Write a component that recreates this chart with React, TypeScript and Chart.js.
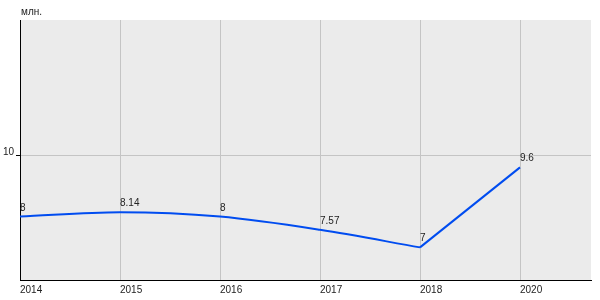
import React, { useEffect, useRef } from "react";
import { Chart, registerables } from "chart.js";

Chart.register(...registerables);

const years = ["2014", "2015", "2016", "2017", "2018", "2020"];
const values = [8, 8.14, 8, 7.57, 7, 9.6];
const labelsText = ["8", "8.14", "8", "7.57", "7", "9.6"];
const yTicks = [10];
const unitLabel = "млн.";

const FONT = "10px 'Liberation Sans', Arial, sans-serif";
const LINE = "#004cf0";

export default function App() {
  const ref = useRef<HTMLCanvasElement>(null);
  useEffect(() => {
    document.body.style.margin = "0";
    const canvas = ref.current!;
    const smoothPart = values.map((v, i) => (i <= 4 ? { x: i, y: v } : null)).filter(Boolean);
    const straightPart = values.map((v, i) => (i >= 4 ? { x: i, y: v } : null)).filter(Boolean);

    const decor = {
      id: "decor",
      beforeDraw(chart: any) {
        const { ctx, chartArea: a } = chart;
        ctx.save();
        ctx.fillStyle = "#ebebeb";
        ctx.fillRect(a.left, a.top, a.right - a.left, a.bottom - a.top);
        ctx.restore();
      },
      afterDraw(chart: any) {
        const { ctx, chartArea: a } = chart;
        const xs = chart.scales.x;
        const ys = chart.scales.y;
        ctx.save();
        ctx.font = FONT;
        ctx.fillStyle = "#222";
        ctx.textBaseline = "alphabetic";
        ctx.textAlign = "left";
        years.forEach((y, i) => {
          ctx.fillText(y, Math.round(xs.getPixelForValue(i)), a.bottom + 13);
        });
        yTicks.forEach((t) => {
          const py = Math.round(ys.getPixelForValue(t));
          ctx.textAlign = "right";
          ctx.fillText(String(t), a.left - 6, py);
          ctx.strokeStyle = "#000";
          ctx.lineWidth = 1;
          ctx.beginPath();
          ctx.moveTo(a.left - 4, py + 0.5);
          ctx.lineTo(a.left, py + 0.5);
          ctx.stroke();
        });
        ctx.textAlign = "left";
        ctx.fillText(unitLabel, a.left + 1, a.top - 5);
        values.forEach((v, i) => {
          const px = xs.getPixelForValue(i);
          const py = ys.getPixelForValue(v);
          ctx.fillText(labelsText[i], Math.round(px), Math.round(py - 6));
        });
        ctx.restore();
      },
    };

    const chart = new Chart(canvas, {
      type: "line",
      data: {
        datasets: [
          {
            data: smoothPart as any,
            borderColor: LINE,
            borderWidth: 2,
            pointRadius: 0,
            cubicInterpolationMode: "monotone",
            fill: false,
          },
          {
            data: straightPart as any,
            borderColor: LINE,
            borderWidth: 2,
            pointRadius: 0,
            tension: 0,
            fill: false,
          },
        ],
      },
      options: {
        responsive: false,
        animation: false,
        layout: { padding: { left: 20, top: 20, right: 9, bottom: 20 } },
        plugins: { legend: { display: false }, tooltip: { enabled: false } },
        scales: {
          x: {
            type: "linear",
            min: 0,
            max: 5.71,
            afterBuildTicks: (s: any) => {
              s.ticks = years.map((_, i) => ({ value: i }));
            },
            ticks: { display: false },
            grid: { color: "#c4c4c4", drawTicks: false, lineWidth: 1 },
            border: { display: true, color: "#000", width: 1 },
          },
          y: {
            type: "linear",
            min: 5.94,
            max: 14.39,
            afterBuildTicks: (s: any) => {
              s.ticks = yTicks.map((v) => ({ value: v }));
            },
            ticks: { display: false },
            grid: { color: "#c4c4c4", drawTicks: false, lineWidth: 1 },
            border: { display: true, color: "#000", width: 1 },
          },
        },
      },
      plugins: [decor],
    });
    return () => chart.destroy();
  }, []);
  return <canvas ref={ref} width={600} height={300} style={{ display: "block" }} />;
}
